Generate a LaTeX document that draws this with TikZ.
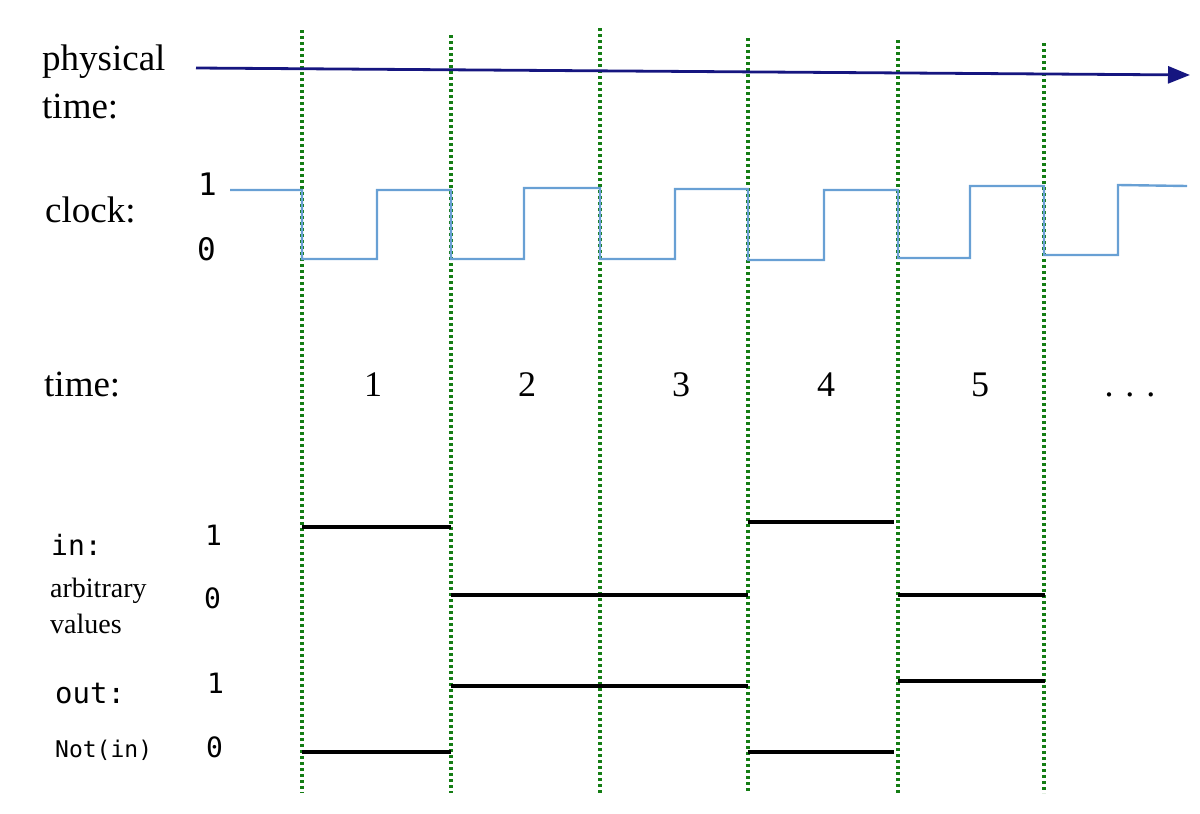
\documentclass[tikz,border=0pt]{standalone}
\usepackage{fontspec}
\setmainfont{Liberation Serif}
\setmonofont{DejaVu Sans Mono}
\usetikzlibrary{arrows.meta}

\definecolor{ptimeblue}{RGB}{22,22,128}
\definecolor{clockblue}{RGB}{104,160,212}
\definecolor{tickgreen}{RGB}{20,125,20}

\begin{document}
\begin{tikzpicture}[
  x=1pt,
  y=-1pt,
  >={Triangle[length=22pt,width=17pt]},
  rowname/.style={anchor=base west, inner sep=0pt, font=\fontsize{37}{44}\selectfont},
  smallname/.style={anchor=base west, inner sep=0pt, font=\fontsize{28}{34}\selectfont},
  lvl/.style={anchor=base west, inner sep=0pt, font=\ttfamily\fontsize{28}{32}\selectfont},
  cyclenum/.style={anchor=base, inner sep=0pt, font=\fontsize{36}{40}\selectfont},
  edge/.style={tickgreen, line width=3.4pt, dash pattern=on 3pt off 3pt},
  ptime/.style={->, ptimeblue, line width=2.8pt},
  clk/.style={clockblue, line width=2.4pt, line join=miter},
  sig/.style={black, line width=4.5pt}
]
  \useasboundingbox (0,0) rectangle (1200,814);

  % clock edges
  \foreach \x/\t in {302/30, 451/35, 600/28, 748/38, 898/40, 1044/43}
    \draw[edge] (\x,\t) -- (\x,793);

  % physical time
  \node[rowname] (phys) at (42,70) {physical};
  \node[rowname] (physb) at (42,118) {time:};
  \coordinate (pstart) at (196,68);
  \coordinate (pend) at (1190,75);
  \draw[ptime] (pstart) -- (pend);

  % clock
  \node[rowname] (clock) at (45,222) {clock:};
  \node[lvl, font=\ttfamily\fontsize{31}{34}\selectfont] (clkhi) at (198,195) {1};
  \node[lvl, font=\ttfamily\fontsize{31}{34}\selectfont] (clklo) at (197,260) {0};
  \draw[clk] (230,190) -- (302,190) -- (302,259) -- (377,259) -- (377,190)
    -- (451,190) -- (451,259) -- (524,259) -- (524,188) -- (600,188)
    -- (600,259) -- (675,259) -- (675,189) -- (748,189) -- (748,260)
    -- (824,260) -- (824,190) -- (898,190) -- (898,258) -- (970,258)
    -- (970,186) -- (1044,186) -- (1044,255) -- (1118,255) -- (1118,185)
    -- (1187,186);

  % time steps
  \node[rowname] (time) at (44,396) {time:};
  \node[cyclenum] (t1) at (373,396) {1};
  \node[cyclenum] (t2) at (527,396) {2};
  \node[cyclenum] (t3) at (681,396) {3};
  \node[cyclenum] (t4) at (826,396) {4};
  \node[cyclenum] (t5) at (980,396) {5};
  \node[cyclenum] (tdots) at (1130,396) {.\,\,.\,\,.};

  % input
  \node[lvl, font=\ttfamily\fontsize{28}{30}\selectfont] (in) at (51,555) {in:};
  \node[smallname] (arb) at (50,597) {arbitrary};
  \node[smallname] (arbb) at (50,633) {values};
  \node[lvl] (inhi) at (205,545) {1};
  \node[lvl] (inlo) at (204,608) {0};
  \draw[sig] (302,527) -- (451,527);
  \draw[sig] (451,595) -- (748,595);
  \draw[sig] (748,522) -- (894,522);
  \draw[sig] (898,595) -- (1045,595);

  % output
  \node[lvl, font=\ttfamily\fontsize{29}{32}\selectfont] (out) at (55,703) {out:};
  \node[lvl, font=\ttfamily\fontsize{23}{28}\selectfont] (notin) at (55,757) {Not(in)};
  \node[lvl] (outhi) at (207,693) {1};
  \node[lvl] (outlo) at (206,757) {0};
  \draw[sig] (302,752) -- (451,752);
  \draw[sig] (451,686) -- (748,686);
  \draw[sig] (748,752) -- (894,752);
  \draw[sig] (898,681) -- (1045,681);
\end{tikzpicture}
\end{document}
